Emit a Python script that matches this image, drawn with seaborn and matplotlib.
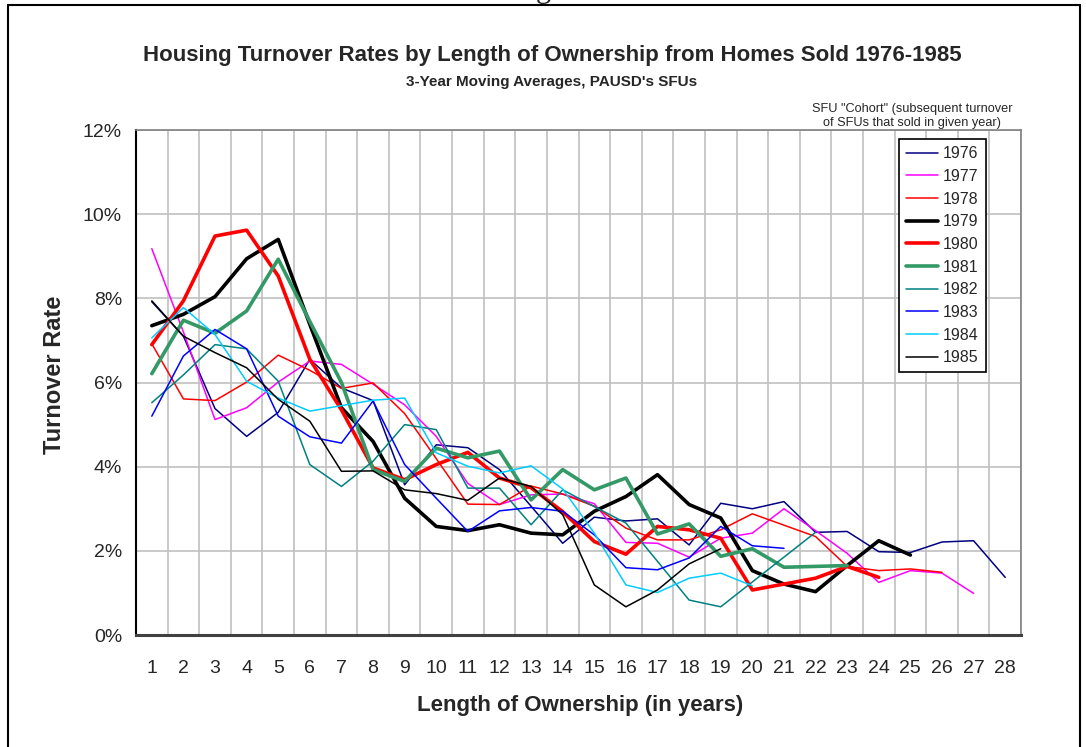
import pandas as pd
import seaborn as sns
import matplotlib.pyplot as plt
from matplotlib.lines import Line2D

# -----------------------------
# Datos (tasas en %)
# -----------------------------
years = list(range(1, 29))
cohorts = ['1976', '1977', '1978', '1979', '1980',
           '1981', '1982', '1983', '1984', '1985']

r1976 = [7.92, 7.10, 5.38, 4.72, 5.29, 6.55, 5.87, 5.57, 3.57, 4.52, 4.45, 3.93, 3.06, 2.18,
         2.80, 2.71, 2.76, 2.14, 3.13, 3.00, 3.17, 2.44, 2.46, 1.98, 1.96, 2.21, 2.24, 1.37]
r1977 = [9.18, 7.20, 5.12, 5.40, 6.01, 6.51, 6.43, 5.96, 5.47, 4.72, 3.60, 3.10, 3.33, 3.35,
         3.12, 2.20, 2.18, 1.85, 2.30, 2.42, 3.00, 2.48, 1.94, 1.25, 1.53, 1.47, 0.99]
r1978 = [6.92, 5.61, 5.57, 6.01, 6.65, 6.29, 5.86, 5.99, 5.26, 4.19, 3.11, 3.10, 3.54, 3.35,
         3.06, 2.54, 2.26, 2.26, 2.50, 2.88, 2.61, 2.34, 1.63, 1.53, 1.57, 1.49]
r1979 = [7.35, 7.62, 8.04, 8.94, 9.40, 7.38, 5.40, 4.60, 3.25, 2.58, 2.48, 2.62, 2.42, 2.38,
         2.94, 3.29, 3.81, 3.10, 2.78, 1.53, 1.21, 1.03, 1.65, 2.24, 1.90]
r1980 = [6.90, 7.94, 9.48, 9.62, 8.53, 6.55, 5.35, 3.97, 3.69, 4.05, 4.34, 3.73, 3.50, 2.93,
         2.22, 1.92, 2.58, 2.50, 2.30, 1.07, 1.21, 1.35, 1.63, 1.37]
r1981 = [6.21, 7.48, 7.17, 7.70, 8.93, 7.45, 6.00, 3.93, 3.65, 4.44, 4.21, 4.37, 3.21, 3.93,
         3.45, 3.73, 2.40, 2.64, 1.87, 2.05, 1.61, 1.63, 1.65]
r1982 = [5.52, 6.18, 6.90, 6.80, 6.03, 4.05, 3.53, 4.13, 5.00, 4.88, 3.49, 3.49, 2.62, 3.45,
         3.05, 2.66, 1.75, 0.83, 0.67, 1.26, 1.85, 2.44]
r1983 = [5.20, 6.63, 7.26, 6.80, 5.20, 4.71, 4.56, 5.56, 4.05, 3.25, 2.46, 2.95, 3.03, 2.94,
         2.38, 1.60, 1.55, 1.83, 2.58, 2.12, 2.06]
r1984 = [7.06, 7.78, 7.14, 6.03, 5.63, 5.32, 5.45, 5.58, 5.63, 4.33, 4.01, 3.85, 4.02, 3.47,
         2.42, 1.19, 1.01, 1.35, 1.47, 1.17]
r1985 = [7.94, 7.10, 6.71, 6.35, 5.60, 5.08, 3.89, 3.90, 3.45, 3.36, 3.20, 3.73, 3.53, 2.86,
         1.19, 0.67, 1.07, 1.69, 2.05]

series = [r1976, r1977, r1978, r1979, r1980, r1981, r1982, r1983, r1984, r1985]

colores = {'1976': '#000080', '1977': '#FF00FF', '1978': '#FF0000', '1979': '#000000',
           '1980': '#FF0000', '1981': '#339966', '1982': '#008080', '1983': '#0000FF',
           '1984': '#00CCFF', '1985': '#000000'}
gruesas = ['1979', '1980', '1981']

# formato largo
filas = []
for c, vals in zip(cohorts, series):
    for y, v in zip(years, vals):
        filas.append({'Cohort': c, 'Year': y, 'Rate': v})
df = pd.DataFrame(filas)

# -----------------------------
# Figura
# -----------------------------
sns.set_style('white')
plt.rcParams['font.family'] = ['Liberation Sans', 'DejaVu Sans']

W, H = 1086, 747
fig = plt.figure(figsize=(W / 100, H / 100), dpi=100)
ax = fig.add_axes([136 / W, 1 - 635 / H, (1021 - 136) / W, (635 - 130) / H])

for c in cohorts:
    sns.lineplot(data=df[df['Cohort'] == c], x='Year', y='Rate', color=colores[c],
                 linewidth=2.6 if c in gruesas else 1.1, label=c, ax=ax,
                 estimator=None, sort=False)

ax.set_xlim(0.5, 28.5)
ax.set_ylim(0, 12)
ax.set_yticks(range(0, 13, 2))
ax.set_yticklabels([f'{v}%' for v in range(0, 13, 2)], fontsize=14)
ax.set_xticks(years)
ax.set_xticklabels([str(y) for y in years], fontsize=14)
ax.set_xticks([y + 0.5 for y in range(0, 29)], minor=True)
ax.tick_params(axis='x', which='major', length=0, pad=18)
ax.tick_params(axis='x', which='minor', length=6, width=1, color='#404040', direction='out')
ax.tick_params(axis='y', which='major', length=6, width=1, color='black', direction='out', pad=4)

ax.grid(False)
ax.yaxis.grid(True, color='#C0C0C0', linewidth=1.2)
ax.xaxis.grid(True, which='minor', color='#C0C0C0', linewidth=1.2)
ax.set_axisbelow(True)

ax.spines['bottom'].set_color('#404040')
ax.spines['bottom'].set_linewidth(2.2)
ax.spines['left'].set_color('black')
ax.spines['left'].set_linewidth(1.5)
for s in ['top', 'right']:
    ax.spines[s].set_color('#808080')
    ax.spines[s].set_linewidth(1.2)

ax.set_xlabel('')
ax.set_ylabel('')

# leyenda
handles, labels = ax.get_legend_handles_labels()
leg = ax.legend(handles, labels, loc='upper left',
                bbox_to_anchor=(899 / W, 1 - 139 / H), bbox_transform=fig.transFigure,
                fontsize=11.5, frameon=True, fancybox=False, framealpha=1,
                edgecolor='black', handlelength=2.0, handletextpad=0.3,
                labelspacing=0.48, borderpad=0.45, borderaxespad=0)
leg.get_frame().set_linewidth(1.2)

# textos
fig.text(552 / W, 1 - 56 / H,
         'Housing Turnover Rates by Length of Ownership from Homes Sold 1976-1985',
         ha='center', va='center', fontsize=16, fontweight='bold')
fig.text(552 / W, 1 - 82 / H, "3-Year Moving Averages, PAUSD's SFUs",
         ha='center', va='center', fontsize=11, fontweight='bold')
fig.text(912 / W, 1 - 116 / H,
         'SFU "Cohort" (subsequent turnover\nof SFUs that sold in given year)',
         ha='center', va='center', fontsize=9.2, linespacing=1.3)
fig.text(55 / W, 1 - 375 / H, 'Turnover Rate', rotation=90,
         ha='center', va='center', fontsize=17, fontweight='bold')
fig.text(580 / W, 1 - 705 / H, 'Length of Ownership (in years)',
         ha='center', va='center', fontsize=16, fontweight='bold')

# resto de un texto cortado arriba
fig.text(543 / W, 1 + 3 / H, 'g', ha='center', va='baseline', fontsize=22,
         family=['Liberation Serif', 'DejaVu Serif'])

# marco exterior
for (x0, y0, x1, y1) in [(8, 5, 1080, 5), (8, 5, 8, 747), (1080, 5, 1080, 747)]:
    fig.add_artist(Line2D([x0 / W, x1 / W], [1 - y0 / H, 1 - y1 / H],
                          transform=fig.transFigure, color='black', linewidth=1.5))

fig.savefig('out.png', dpi=100)
